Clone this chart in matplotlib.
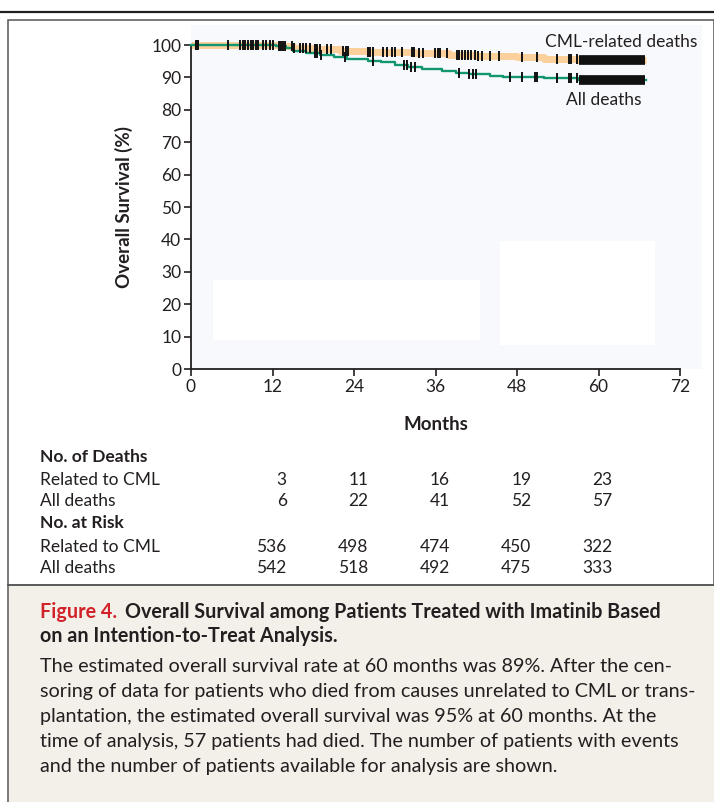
import numpy as np
import matplotlib
matplotlib.use("Agg")
import matplotlib.pyplot as plt
import matplotlib.transforms as mtransforms
from matplotlib.patches import Rectangle

plt.rcParams['font.family'] = ['Lato', 'DejaVu Sans']

# Kaplan-Meier step curves (months, survival %)
cml_times = [0, 13, 15, 18, 22, 26, 33, 38, 42, 48, 52, 57, 67]
cml_surv = [100, 99.7, 99.2, 98.7, 98.2, 97.8, 97.4, 97.0, 96.6, 96.2, 95.8, 95.4, 95.4]
all_times = [0, 12.5, 14, 15, 17, 19, 21, 23, 26, 28, 30, 32, 34, 37, 39, 41, 44, 46, 52, 57, 67]
all_surv = [100, 99.7, 99.0, 98.3, 97.5, 96.8, 96.2, 95.6, 95.0, 94.6, 93.8, 93.3, 92.5,
            92.0, 91.5, 91.0, 90.5, 90.0, 89.7, 89.3, 89.3]

# censoring marks (months)
cml_censor = [0.7, 1.0, 5.4, 7.2, 7.6, 8.0, 8.4, 8.8, 9.2, 9.6, 9.9, 10.6, 11.1, 11.7, 12.0,
              13.0, 13.3, 13.6, 13.8, 14.9, 15.2, 16.0, 16.5, 17.0, 17.5, 18.2, 18.5, 19.0,
              20.0, 20.6, 22.4, 22.8, 23.1, 26.0, 26.4, 26.8, 28.3, 28.9, 29.6, 30.0, 31.0,
              32.5, 32.8, 33.5, 34.2, 35.9, 36.3, 36.7, 37.7, 39.1, 39.4, 39.9, 40.4, 40.8,
              41.3, 41.8, 42.3, 42.8, 44.0, 45.3, 48.7, 50.9, 53.9, 55.6, 55.9, 56.8]
all_censor = [0.7, 1.0, 18.2, 18.6, 19.2, 22.7, 26.8, 31.3, 31.8, 32.4, 33.0, 39.4, 41.0,
              41.5, 42.0, 47.0, 48.7, 50.7, 50.9, 53.9, 55.6, 55.9, 56.8]
censor_block = (57.2, 66.8)

month_ticks = [0, 12, 24, 36, 48, 60, 72]
surv_ticks = list(range(0, 101, 10))

table_months = [12, 24, 36, 48, 60]
deaths_cml = [3, 11, 16, 19, 23]
deaths_all = [6, 22, 41, 52, 57]
risk_cml = [536, 498, 474, 450, 322]
risk_all = [542, 518, 492, 475, 333]

W, H = 714, 802
fig = plt.figure(figsize=(W / 100, H / 100), dpi=100)
ink = '#231f20'


def fy(py):
    return 1 - py / H


def fx(px):
    return px / W


# frame and caption panel
fig.add_artist(plt.Line2D([0, 1], [fy(12), fy(12)], color=ink, lw=1.6))
fig.add_artist(Rectangle((fx(8), fy(585)), fx(714 - 8), (585 - 20) / H, facecolor='none',
                         edgecolor='#555555', lw=1.1))
fig.add_artist(Rectangle((fx(9), 0), fx(714 - 9), (802 - 585) / H, facecolor='#f3f0ea',
                         edgecolor='none', zorder=-5))
fig.add_artist(plt.Line2D([fx(8), fx(8)], [0, fy(585)], color='#555555', lw=1.1))
fig.add_artist(plt.Line2D([fx(8), 1], [fy(585), fy(585)], color='#555555', lw=1.1))
# plot background
fig.add_artist(Rectangle((fx(191), fy(369)), fx(702 - 191), (369 - 25) / H,
                         facecolor='#f8f9fd', edgecolor='none', zorder=-5))

ax = fig.add_axes([fx(191), fy(369), fx(680 - 191), (369 - 45) / H])
ax.set_facecolor('none')
ax.set_xlim(0, 72)
ax.set_ylim(0, 100)

# faint white patches in the plot area
ax.add_patch(Rectangle((3.2, 8.9), 39.4, 18.6, facecolor='white', edgecolor='none', zorder=0))
ax.add_patch(Rectangle((45.5, 7.4), 22.8, 32.1, facecolor='white', edgecolor='none', zorder=0))

ax.step(cml_times, cml_surv, where='post', color='#fbd09a', lw=5, solid_capstyle='butt',
        clip_on=False, zorder=2)
ax.step(all_times, all_surv, where='post', color='#12966f', lw=1.7, clip_on=False, zorder=3)


def surv_at(times, surv, t):
    idx = np.searchsorted(times, t, side='right') - 1
    return np.asarray(surv)[idx]


ax.plot(cml_censor, surv_at(cml_times, cml_surv, cml_censor), ls='none', marker='|',
        ms=7.5, mew=1.4, color='#111111', clip_on=False, zorder=4)
ax.plot(all_censor, surv_at(all_times, all_surv, all_censor), ls='none', marker='|',
        ms=7.5, mew=1.4, color='#111111', clip_on=False, zorder=4)
ax.hlines([cml_surv[-1], all_surv[-1]], censor_block[0], censor_block[1], color='#111111',
          lw=7, zorder=4, clip_on=False)

for s in ['top', 'right']:
    ax.spines[s].set_visible(False)
for s in ['left', 'bottom']:
    ax.spines[s].set_linewidth(1.3)
    ax.spines[s].set_color(ink)
ax.set_xticks(month_ticks)
ax.set_yticks(surv_ticks)
ax.tick_params(direction='out', length=5, width=1.2, color=ink, labelsize=12.5,
               labelcolor=ink, pad=2)
ax.set_xlabel('Months', fontsize=13.5, fontweight='bold', color=ink, labelpad=15)
ax.set_ylabel('Overall Survival (%)', fontsize=13.5, fontweight='bold', color=ink,
              labelpad=13)

fig.text(fx(697), fy(42), 'CML-related deaths', ha='right', va='center', fontsize=12.5,
         color=ink)
fig.text(fx(641), fy(100), 'All deaths', ha='right', va='center', fontsize=12.5, color=ink)

# table below the axis
blend = mtransforms.blended_transform_factory(ax.transData, fig.transFigure)
rows = [
    ('No. of Deaths', None, 457, True),
    ('Related to CML', deaths_cml, 480, False),
    ('All deaths', deaths_all, 501, False),
    ('No. at Risk', None, 523, True),
    ('Related to CML', risk_cml, 547, False),
    ('All deaths', risk_all, 568, False),
]
for label, vals, py, bold in rows:
    fig.text(fx(40), fy(py), label, ha='left', va='center', fontsize=12.5,
             fontweight='bold' if bold else 'normal', color=ink)
    if vals is not None:
        for m, v in zip(table_months, vals):
            ax.text(m + 2.1, fy(py), str(v), transform=blend, ha='right', va='center',
                    fontsize=12.5, color=ink, clip_on=False)

# caption
fig.text(fx(40), fy(612), 'Figure 4.', ha='left', va='center', fontsize=14.2,
         fontweight='bold', color='#d2232a')
fig.text(fx(125), fy(612), 'Overall Survival among Patients Treated with Imatinib Based',
         ha='left', va='center', fontsize=14.2, fontweight='bold', color=ink)
fig.text(fx(40), fy(636), 'on an Intention-to-Treat Analysis.', ha='left', va='center',
         fontsize=14.2, fontweight='bold', color=ink)
body = [
    'The estimated overall survival rate at 60 months was 89%. After the cen-',
    'soring of data for patients who died from causes unrelated to CML or trans-',
    'plantation, the estimated overall survival was 95% at 60 months. At the',
    'time of analysis, 57 patients had died. The number of patients with events',
    'and the number of patients available for analysis are shown.',
]
for i, line in enumerate(body):
    fig.text(fx(40), fy(667 + 24.8 * i), line, ha='left', va='center', fontsize=14.2,
             color=ink)

fig.savefig('out.png', dpi=100)
